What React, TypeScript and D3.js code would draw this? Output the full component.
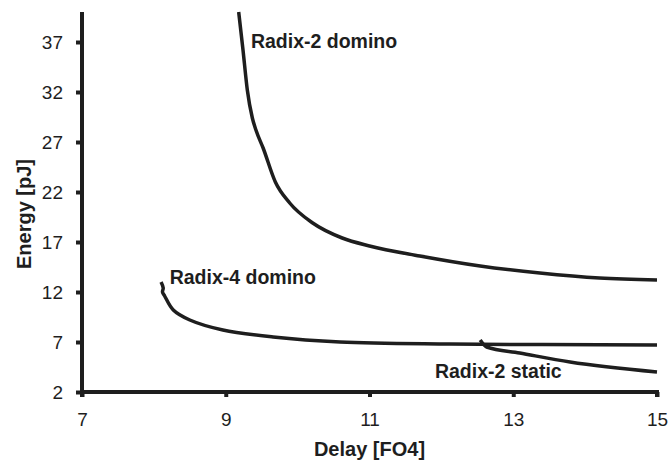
import { useEffect, useRef } from 'react';
import * as d3 from 'd3';

type Pt = [number, number];

// Delay [FO4], Energy [pJ]
const radix2Domino: Pt[] = [
    [9.18, 40.0], [9.24, 36.2], [9.3, 32.2], [9.37, 29.4], [9.42, 28.2], [9.52, 26.4],
    [9.69, 23.0], [9.89, 20.9], [10.21, 18.9], [10.62, 17.4], [11.0, 16.6],
    [11.7, 15.6], [12.54, 14.6], [13.37, 13.9], [14.2, 13.4], [15.0, 13.2],
];
const radix4Domino: Pt[] = [
    [8.1, 13.0], [8.13, 12.4], [8.12, 12.0], [8.15, 11.6], [8.27, 10.2], [8.5, 9.2],
    [8.96, 8.2], [9.66, 7.5], [10.59, 7.0], [12.12, 6.8], [15.0, 6.7],
];
const radix2Static: Pt[] = [
    [12.54, 7.2], [12.63, 6.5], [13.09, 5.9], [13.79, 5.0], [15.0, 4.0],
];

const xTicks = [7, 9, 11, 13, 15];
const yTicks = [2, 7, 12, 17, 22, 27, 32, 37];

const curveLabels: { text: string; at: Pt }[] = [
    { text: 'Radix-2 domino', at: [9.35, 36.4] },
    { text: 'Radix-4 domino', at: [8.22, 12.8] },
    { text: 'Radix-2 static', at: [11.91, 3.4] },
];

export default function App() {
    const svgRef = useRef<SVGSVGElement>(null);

    useEffect(() => {
        if (!svgRef.current) return;
        const W = 671, H = 463;
        const ink = '#1e1e1e';
        const font = '"Liberation Sans", Arial, sans-serif';

        const x = d3.scaleLinear().domain([7, 15]).range([82, 657]);
        const y = d3.scaleLinear().domain([2, 40]).range([392, 12]);

        const svg = d3.select(svgRef.current);
        svg.selectAll('*').remove();
        svg.attr('width', W).attr('height', H).style('display', 'block');

        // Axes (ticks + labels from d3, axis lines drawn below)
        const xAxis = svg.append('g').attr('transform', `translate(0,${y(2)})`)
            .call(d3.axisBottom(x).tickValues(xTicks).tickSize(5).tickPadding(16));
        const yAxis = svg.append('g').attr('transform', `translate(${x(7)},0)`)
            .call(d3.axisLeft(y).tickValues(yTicks).tickSize(6).tickPadding(13));
        [xAxis, yAxis].forEach(a => {
            a.select('.domain').remove();
            a.selectAll('.tick line').attr('stroke', ink).attr('stroke-width', 4);
            a.selectAll('.tick text').attr('fill', ink).attr('font-size', 19).attr('font-family', font);
        });

        svg.append('path')
            .attr('d', `M${x(7)},${y(40)}V${y(2) + 5}M${x(7) - 2},${y(2)}H${x(15)}V${y(2) + 5}`)
            .attr('fill', 'none').attr('stroke', ink).attr('stroke-width', 4);

        // Curves
        const smooth = d3.line<Pt>().x(d => x(d[0])).y(d => y(d[1])).curve(d3.curveMonotoneX);
        const wiggly = d3.line<Pt>().x(d => x(d[0])).y(d => y(d[1])).curve(d3.curveCatmullRom);
        [[radix2Domino, smooth], [radix4Domino, wiggly], [radix2Static, smooth]].forEach(([s, gen]) => {
            svg.append('path')
                .attr('d', (gen as d3.Line<Pt>)(s as Pt[]))
                .attr('fill', 'none').attr('stroke', ink).attr('stroke-width', 3.5)
                .attr('stroke-linejoin', 'round');
        });

        // Curve labels
        curveLabels.forEach(l => {
            svg.append('text')
                .attr('x', x(l.at[0])).attr('y', y(l.at[1]))
                .attr('font-family', font).attr('font-weight', 'bold').attr('font-size', 19.5)
                .attr('fill', ink).text(l.text);
        });

        // Axis titles
        svg.append('text')
            .attr('x', (x(7) + x(15)) / 2).attr('y', 456)
            .attr('text-anchor', 'middle')
            .attr('font-family', font).attr('font-weight', 'bold').attr('font-size', 20)
            .attr('fill', ink).text('Delay [FO4]');
        svg.append('text')
            .attr('transform', `translate(31,${(y(2) + y(40)) / 2 + 12}) rotate(-90)`)
            .attr('text-anchor', 'middle')
            .attr('font-family', font).attr('font-weight', 'bold').attr('font-size', 20)
            .attr('fill', ink).text('Energy [pJ]');
    }, []);

    return (
        <div style={{ position: 'absolute', left: 0, top: 0, background: '#fff' }}>
            <svg ref={svgRef} />
        </div>
    );
}
